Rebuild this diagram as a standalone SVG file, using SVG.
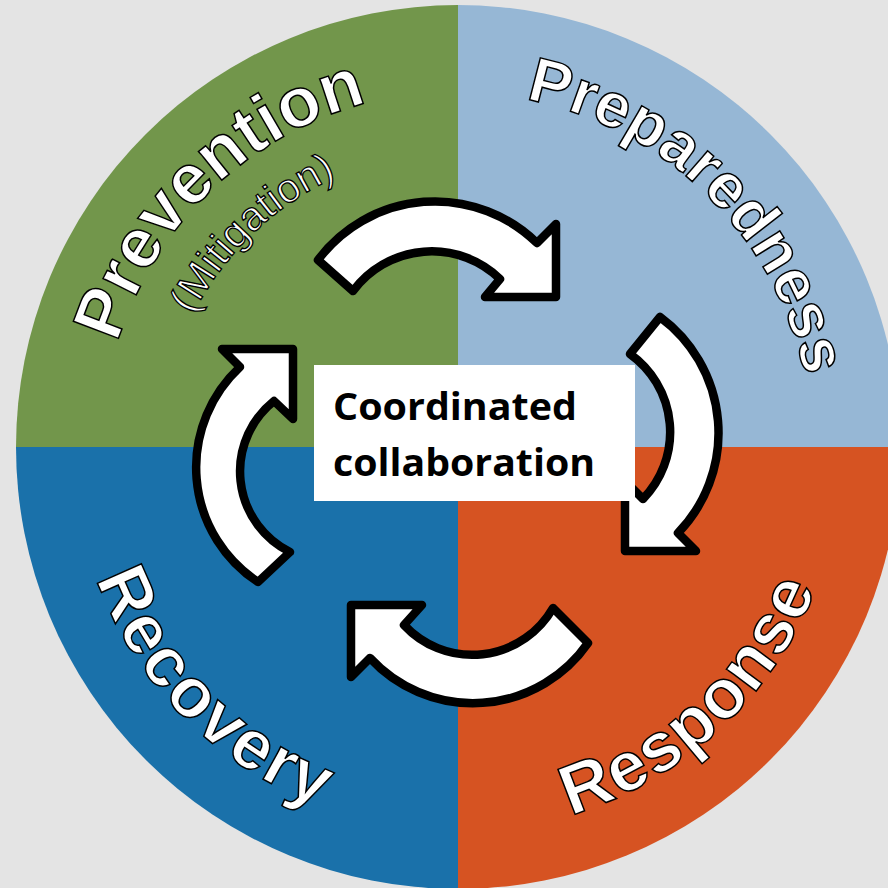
<svg xmlns="http://www.w3.org/2000/svg" width="888" height="888" viewBox="0 0 888 888">
<defs>
<style>
.lbl{font-family:"Liberation Sans",Arial,sans-serif;font-weight:bold;fill:#fff;stroke:#000;stroke-width:1.5;}
.sub{font-family:"Liberation Sans",Arial,sans-serif;font-weight:normal;fill:#fff;stroke:#000;stroke-width:1.3;}
.arrow{fill:#fff;stroke:#000;stroke-width:8.5;stroke-linejoin:round;}
.ctr{font-family:"Open Sans","Lato",sans-serif;font-weight:bold;font-size:38px;fill:#000;}
</style>
<path id="pPrev" d="M117.6 342.9 A356 356 0 0 1 519.8 96.4"/>
<path id="pMit" d="M193.1 314.9 A296 296 0 0 1 458 151"/>
<path id="pPrep" d="M525.5 99.5 A354 354 0 0 1 806.6 508.5"/>
<path id="pResp" d="M570.6 815.2 A385 385 0 0 0 843 447"/>
<path id="pRec" d="M96.2 578.7 A385 385 0 0 0 458 832"/>
</defs>
<rect width="888" height="888" fill="#e4e4e4"/>
<g id="prevention">
<path d="M458 447 L16 447 A442 442 0 0 1 458 5 Z" fill="#72964b"/>
<text class="lbl" font-size="70"><textPath href="#pPrev">Prevention</textPath></text>
<text class="sub" font-size="41"><textPath href="#pMit">(Mitigation)</textPath></text>
</g>
<g id="preparedness">
<path d="M458 447 L458 5 A442 442 0 0 1 900 447 Z" fill="#96b7d5"/>
<text class="lbl" font-size="63"><textPath href="#pPrep">Preparedness</textPath></text>
</g>
<g id="response">
<path d="M458 447 L900 447 A442 442 0 0 1 458 889 Z" fill="#d65322"/>
<text class="lbl" font-size="70" letter-spacing="1.5"><textPath href="#pResp">Response</textPath></text>
</g>
<g id="recovery">
<path d="M458 447 L458 889 A442 442 0 0 1 16 447 Z" fill="#1a71aa"/>
<text class="lbl" font-size="70" letter-spacing="2"><textPath href="#pRec">Recovery</textPath></text>
</g>
<g id="connectors">
<path class="arrow" d="M318 260 A146 146 0 0 1 537 243 L556 224 L556 297 L485 297 L500 279 A98 98 0 0 0 353 291 Z"/>
<path class="arrow" d="M630 354 L660 317 A144 144 0 0 1 678 533 L696 551 L625 551 L625 481 L643 499 A96 96 0 0 0 630 354 Z"/>
<path class="arrow" d="M553 608 L588 643 A140 140 0 0 1 370 658 L351 677 L351 605 L422 605 L404 625 A93 93 0 0 0 553 608 Z"/>
<path class="arrow" d="M290 552 L258 582 A137 137 0 0 1 240 367 L222 349 L293 349 L293 419 L274 401 A90 90 0 0 0 290 552 Z"/>
</g>
<g id="center">
<rect x="314" y="365" width="321" height="136" fill="#fff"/>
<text class="ctr" x="333" y="420" textLength="244" lengthAdjust="spacingAndGlyphs">Coordinated</text>
<text class="ctr" x="333" y="476" textLength="262" lengthAdjust="spacingAndGlyphs">collaboration</text>
</g>
</svg>
